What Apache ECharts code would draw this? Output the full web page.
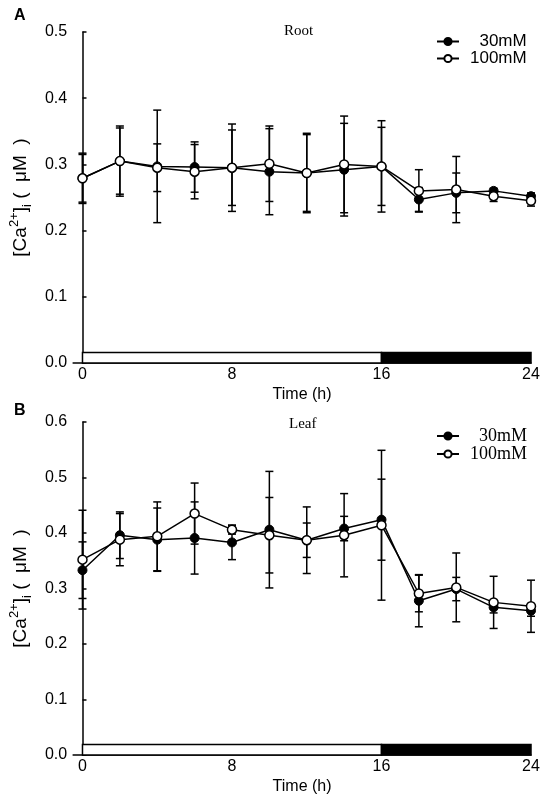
<!DOCTYPE html>
<html>
<head>
<meta charset="utf-8">
<script src="https://cdn.jsdelivr.net/npm/echarts@6/dist/echarts.min.js"></script>
<style>
  html, body { margin: 0; padding: 0; background: #fff; }
  #chart { width: 550px; height: 801px; }
</style>
</head>
<body>
<div id="chart"></div>
<script>
// sampling times (h)
const times = [0, 2, 4, 6, 8, 10, 12, 14, 16, 18, 20, 22, 24];
const xTickLabels = [0, 8, 16, 24];
const seriesNames = ['30mM', '100mM'];

// A: root
const root30 = [0.279, 0.305, 0.297, 0.296, 0.295, 0.289, 0.287, 0.292, 0.297, 0.247, 0.257, 0.260, 0.252];
const root30Err = [0.038, 0.053, 0.085, 0.038, 0.057, 0.065, 0.060, 0.070, 0.059, 0.018, 0.030, 0.004, 0.005];
const root100 = [0.279, 0.305, 0.295, 0.289, 0.295, 0.301, 0.287, 0.300, 0.297, 0.260, 0.262, 0.252, 0.245];
const root100Err = [0.036, 0.050, 0.036, 0.041, 0.066, 0.057, 0.058, 0.073, 0.069, 0.032, 0.050, 0.008, 0.008];

// B: leaf
const leaf30 = [0.333, 0.396, 0.388, 0.391, 0.383, 0.406, 0.387, 0.408, 0.424, 0.278, 0.299, 0.266, 0.260];
const leaf30Err = [0.051, 0.042, 0.057, 0.065, 0.031, 0.105, 0.031, 0.022, 0.073, 0.047, 0.021, 0.010, 0.010];
const leaf100 = [0.352, 0.388, 0.394, 0.435, 0.406, 0.396, 0.387, 0.396, 0.414, 0.291, 0.302, 0.275, 0.268];
const leaf100Err = [0.089, 0.047, 0.062, 0.055, 0.008, 0.068, 0.060, 0.075, 0.135, 0.033, 0.062, 0.047, 0.047];

// light / dark periods [start, end, isDark]
const photoperiod = [[0, 16, 0], [16, 24, 1]];

const sans = 'Liberation Sans, Arial, sans-serif';
const serif = 'Liberation Serif, Times New Roman, serif';

const chart = echarts.init(document.getElementById('chart'));

function pairs(means) {
    return times.map((t, i) => [t, means[i]]);
}

function errorBars(idx, means, errs) {
    return {
        type: 'custom',
        xAxisIndex: idx,
        yAxisIndex: idx,
        silent: true,
        z: 1,
        data: times.map((t, i) => [t, means[i] - errs[i], means[i] + errs[i]]),
        encode: { x: 0, y: [1, 2] },
        renderItem: function (params, api) {
            const x = api.value(0);
            const lo = api.coord([x, api.value(1)]);
            const hi = api.coord([x, api.value(2)]);
            const w = 4;
            const st = { stroke: '#000', lineWidth: 1.5 };
            return {
                type: 'group',
                children: [
                    { type: 'line', shape: { x1: lo[0], y1: lo[1], x2: hi[0], y2: hi[1] }, style: st },
                    { type: 'line', shape: { x1: lo[0] - w, y1: lo[1], x2: lo[0] + w, y2: lo[1] }, style: st },
                    { type: 'line', shape: { x1: hi[0] - w, y1: hi[1], x2: hi[0] + w, y2: hi[1] }, style: st }
                ]
            };
        }
    };
}

function dayNight(idx, h) {
    return {
        type: 'custom',
        xAxisIndex: idx,
        yAxisIndex: idx,
        silent: true,
        z: 3,
        data: photoperiod,
        encode: { x: [0, 1] },
        renderItem: function (params, api) {
            const a = api.coord([api.value(0), 0]);
            const b = api.coord([api.value(1), h]);
            return {
                type: 'rect',
                shape: { x: a[0], y: b[1], width: b[0] - a[0], height: a[1] - b[1] },
                style: { fill: api.value(2) ? '#000' : '#fff', stroke: '#000', lineWidth: 1.5 }
            };
        }
    };
}

function lines(idx, m30, m100) {
    return [
        {
            name: seriesNames[0], type: 'line', xAxisIndex: idx, yAxisIndex: idx,
            data: pairs(m30), symbol: 'circle', symbolSize: 9, z: 4,
            lineStyle: { color: '#000', width: 1.5 },
            itemStyle: { color: '#000', borderColor: '#000', borderWidth: 1 }
        },
        {
            name: seriesNames[1], type: 'line', xAxisIndex: idx, yAxisIndex: idx,
            data: pairs(m100), symbol: 'circle', symbolSize: 9, z: 5,
            lineStyle: { color: '#000', width: 1.5 },
            itemStyle: { color: '#fff', borderColor: '#000', borderWidth: 1.5 }
        }
    ];
}

const yName = '{a|[Ca}{s|2+}{a|]}{b|i}{a| (  μM  )}';
const yRich = {
    a: { fontSize: 19, fontFamily: sans, color: '#000', lineHeight: 26 },
    s: { fontSize: 13, fontFamily: sans, color: '#000', lineHeight: 14, verticalAlign: 'top' },
    b: { fontSize: 13, fontFamily: sans, color: '#000', lineHeight: 14, verticalAlign: 'bottom' }
};

function xAxis(idx) {
    return {
        type: 'value', gridIndex: idx, min: -0.5, max: 24,
        axisLine: { lineStyle: { color: '#000', width: 1.5 } },
        axisTick: { show: false },
        splitLine: { show: false },
        axisLabel: { customValues: xTickLabels, color: '#000', fontSize: 16, fontFamily: sans, margin: 4 },
        name: 'Time (h)', nameLocation: 'middle', nameGap: 24,
        nameTextStyle: { color: '#000', fontSize: 16, fontFamily: sans }
    };
}

function yAxis(idx, max) {
    return {
        type: 'value', gridIndex: idx, min: 0, max: max, interval: 0.1,
        axisLine: { show: true, lineStyle: { color: '#000', width: 1.5 } },
        axisTick: { show: true, inside: true, length: 4, lineStyle: { color: '#000', width: 1.5 } },
        splitLine: { show: false },
        axisLabel: { color: '#000', fontSize: 16, fontFamily: sans, margin: 6,
            formatter: v => v.toFixed(1) },
        name: yName, nameLocation: 'middle', nameRotate: 90, nameGap: 36,
        nameTextStyle: { rich: yRich }
    };
}

function legend(top, font, fontSize) {
    return {
        data: seriesNames, orient: 'vertical', left: 436, top: top, padding: 0, itemGap: 0,
        itemWidth: 22, itemHeight: 9,
        formatter: n => (n === '30mM' ? '  ' + n : n),
        textStyle: { fontFamily: font, fontSize: fontSize, lineHeight: 17, color: '#000', padding: [0, 0, 0, 6] }
    };
}

chart.setOption({
    animation: false,
    backgroundColor: '#fff',
    title: [
        { text: 'A', left: 14, top: 8, padding: 0, textStyle: { fontFamily: sans, fontSize: 16, fontWeight: 'bold', color: '#000' } },
        { text: 'Root', left: 284, top: 24, padding: 0, textStyle: { fontFamily: serif, fontSize: 15, fontWeight: 'normal', color: '#000' } },
        { text: 'B', left: 14, top: 403, padding: 0, textStyle: { fontFamily: sans, fontSize: 16, fontWeight: 'bold', color: '#000' } },
        { text: 'Leaf', left: 289, top: 417, padding: 0, textStyle: { fontFamily: serif, fontSize: 15, fontWeight: 'normal', color: '#000' } }
    ],
    legend: [legend(33, sans, 17), legend(427, serif, 18)],
    grid: [
        { left: 73, right: 19, top: 32, bottom: 438 },
        { left: 73, right: 19, top: 422, bottom: 46 }
    ],
    xAxis: [xAxis(0), xAxis(1)],
    yAxis: [yAxis(0, 0.5), yAxis(1, 0.6)],
    series: [
        errorBars(0, root30, root30Err),
        errorBars(0, root100, root100Err),
        ...lines(0, root30, root100),
        dayNight(0, 0.016),
        errorBars(1, leaf30, leaf30Err),
        errorBars(1, leaf100, leaf100Err),
        ...lines(1, leaf30, leaf100),
        dayNight(1, 0.019)
    ]
});
</script>
</body>
</html>
